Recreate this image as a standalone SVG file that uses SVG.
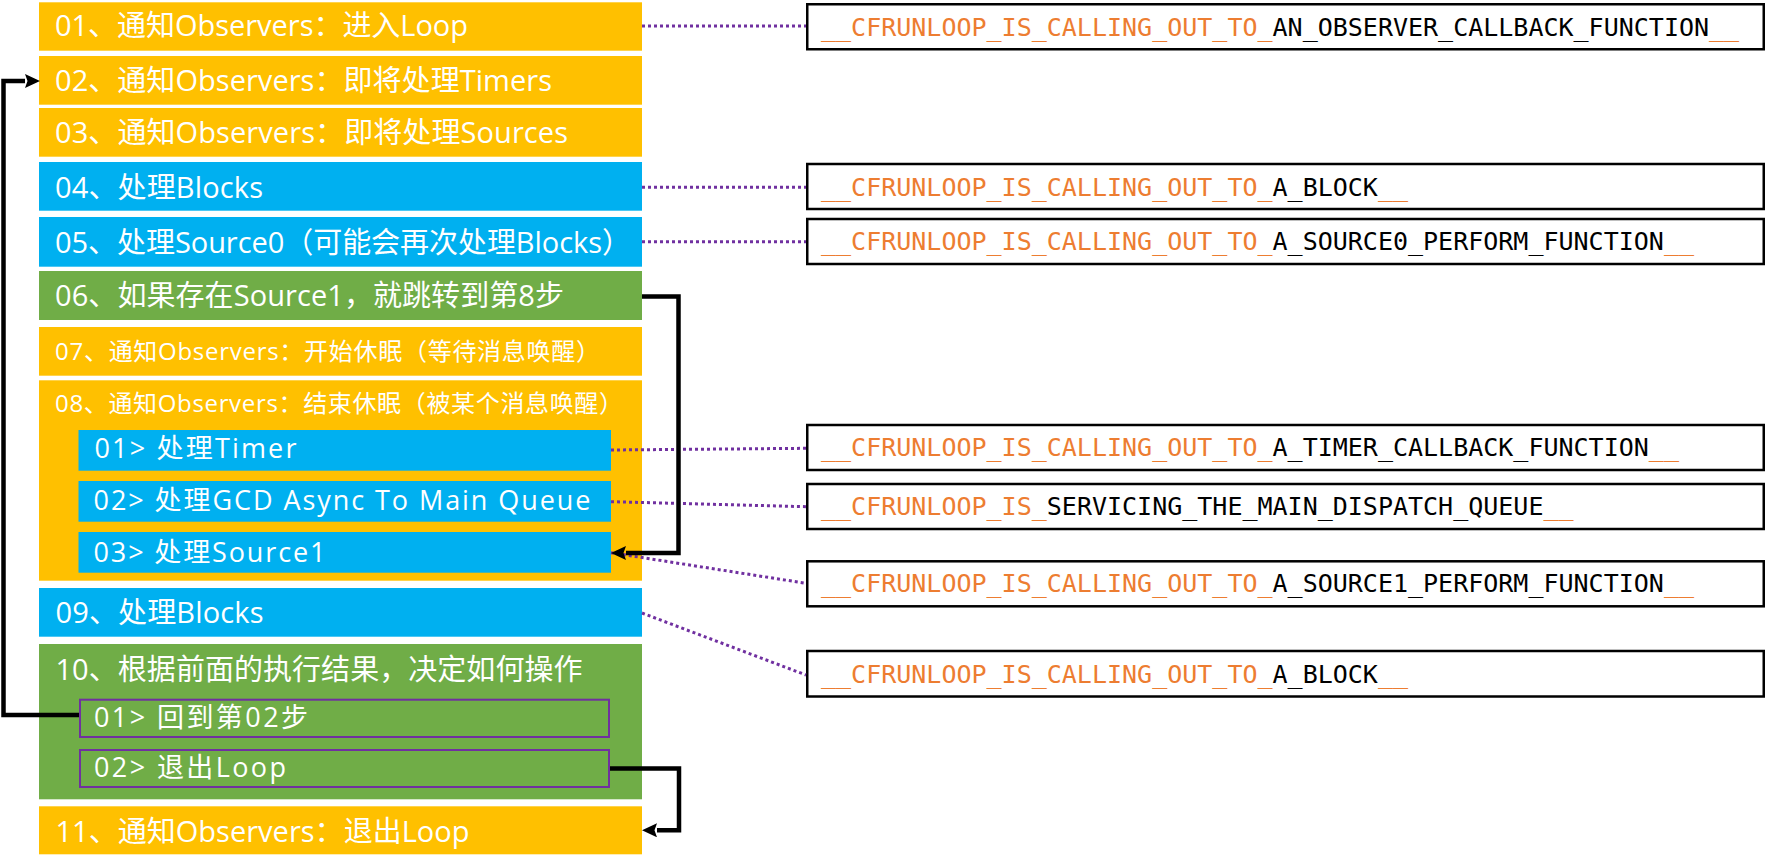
<svg xmlns="http://www.w3.org/2000/svg" width="1766" height="866" viewBox="0 0 1766 866">
<style>
.bg{fill:#ffffff}
.o{fill:#FFC000}
.b{fill:#00B0F0}
.g{fill:#70AD47}
.gs{fill:#70AD47;stroke:#7030A0;stroke-width:2}
.t{fill:#ffffff;font-family:"Open Sans","Noto Sans CJK SC",sans-serif;font-size:29px}
.ts{font-size:24px}
.tm{font-size:27px}
.rb{fill:#ffffff;stroke:#000000;stroke-width:2.5}
.m{font-family:"DejaVu Sans Mono","Liberation Mono",monospace;font-size:25px;fill:#000000}
.m tspan.or{fill:#ED7D31}
.dot{fill:none;stroke:#7030A0;stroke-width:3;stroke-dasharray:3 3}
.arr{fill:none;stroke:#000000;stroke-width:4.5}
</style>
<defs>
<marker id="ah" markerUnits="userSpaceOnUse" markerWidth="16" markerHeight="14" refX="0" refY="7" orient="auto" viewBox="0 0 16 14">
<path d="M0,0 L15,7 L0,14 L2.5,7 z" fill="#000000"/>
</marker>
</defs>
<rect class="bg" x="0" y="0" width="1766" height="866"/>

<g id="step01"><rect class="o" x="39" y="2.3" width="603" height="48.4"/><text class="t" x="55" y="36" textLength="413">01、通知Observers：进入Loop</text></g>
<g id="step02"><rect class="o" x="39" y="56" width="603" height="48.7"/><text class="t" x="55" y="90.7" textLength="497">02、通知Observers：即将处理Timers</text></g>
<g id="step03"><rect class="o" x="39" y="108" width="603" height="48.7"/><text class="t" x="55" y="143.3" textLength="513">03、通知Observers：即将处理Sources</text></g>
<g id="step04"><rect class="b" x="39" y="162" width="603" height="48.7"/><text class="t" x="55" y="197.5" textLength="208">04、处理Blocks</text></g>
<g id="step05"><rect class="b" x="39" y="217" width="603" height="49.7"/><text class="t" x="55" y="252.5" textLength="576">05、处理Source0（可能会再次处理Blocks）</text></g>
<g id="step06"><rect class="g" x="39" y="271" width="603" height="49"/><text class="t" x="55" y="305.7" textLength="509">06、如果存在Source1，就跳转到第8步</text></g>
<g id="step07"><rect class="o" x="39" y="327" width="603" height="48.7"/><text class="t ts" x="55" y="360" textLength="545">07、通知Observers：开始休眠（等待消息唤醒）</text></g>
<g id="step08"><rect class="o" x="39" y="380.3" width="603" height="200.4"/><text class="t ts" x="55" y="412.3" textLength="568">08、通知Observers：结束休眠（被某个消息唤醒）</text>
<g id="step08-1"><rect class="b" x="78.5" y="430" width="532.5" height="40.7"/><text class="t tm" x="94.5" y="458.3" textLength="202">01&gt; 处理Timer</text></g>
<g id="step08-2"><rect class="b" x="78.5" y="481" width="532.5" height="40.7"/><text class="t tm" x="93.5" y="510" textLength="497">02&gt; 处理GCD Async To Main Queue</text></g>
<g id="step08-3"><rect class="b" x="78.5" y="532" width="532.5" height="40.7"/><text class="t tm" x="93.5" y="561.7" textLength="232">03&gt; 处理Source1</text></g>
</g>
<g id="step09"><rect class="b" x="39" y="588" width="603" height="48.7"/><text class="t" x="55.5" y="623.3" textLength="208">09、处理Blocks</text></g>
<g id="step10"><rect class="g" x="39" y="644" width="603" height="155.3"/><text class="t" x="55.5" y="680" textLength="527">10、根据前面的执行结果，决定如何操作</text>
<g id="step10-1"><rect class="gs" x="80" y="699.7" width="529" height="37.3"/><text class="t tm" x="94" y="726.7" textLength="214">01&gt; 回到第02步</text></g>
<g id="step10-2"><rect class="gs" x="80" y="750" width="529" height="37"/><text class="t tm" x="94" y="776.7" textLength="192">02&gt; 退出Loop</text></g>
</g>
<g id="step11"><rect class="o" x="39" y="806.3" width="603" height="48"/><text class="t" x="55.5" y="841.7" textLength="414">11、通知Observers：退出Loop</text></g>

<g id="fnA"><rect class="rb" x="807.25" y="4.25" width="956.5" height="45"/><text class="m" x="821" y="35.5"><tspan class="or">__CFRUNLOOP_IS_CALLING_OUT_TO_</tspan>AN_OBSERVER_CALLBACK_FUNCTION<tspan class="or">__</tspan></text></g>
<g id="fnB"><rect class="rb" x="807.25" y="164" width="956.5" height="45"/><text class="m" x="821" y="195.5"><tspan class="or">__CFRUNLOOP_IS_CALLING_OUT_TO_</tspan>A_BLOCK<tspan class="or">__</tspan></text></g>
<g id="fnC"><rect class="rb" x="807.25" y="219" width="956.5" height="45"/><text class="m" x="821" y="250.3"><tspan class="or">__CFRUNLOOP_IS_CALLING_OUT_TO_</tspan>A_SOURCE0_PERFORM_FUNCTION<tspan class="or">__</tspan></text></g>
<g id="fnD"><rect class="rb" x="807.25" y="425" width="956.5" height="45"/><text class="m" x="821" y="456"><tspan class="or">__CFRUNLOOP_IS_CALLING_OUT_TO_</tspan>A_TIMER_CALLBACK_FUNCTION<tspan class="or">__</tspan></text></g>
<g id="fnE"><rect class="rb" x="807.25" y="484" width="956.5" height="45"/><text class="m" x="821" y="515"><tspan class="or">__CFRUNLOOP_IS_</tspan>SERVICING_THE_MAIN_DISPATCH_QUEUE<tspan class="or">__</tspan></text></g>
<g id="fnF"><rect class="rb" x="807.25" y="561.3" width="956.5" height="45"/><text class="m" x="821" y="592"><tspan class="or">__CFRUNLOOP_IS_CALLING_OUT_TO_</tspan>A_SOURCE1_PERFORM_FUNCTION<tspan class="or">__</tspan></text></g>
<g id="fnG"><rect class="rb" x="807.25" y="651" width="956.5" height="45.5"/><text class="m" x="821" y="682.5"><tspan class="or">__CFRUNLOOP_IS_CALLING_OUT_TO_</tspan>A_BLOCK<tspan class="or">__</tspan></text></g>

<g id="connectors">
<path class="dot" d="M642,26 L806,26"/>
<path class="dot" d="M642,187.3 L806,187.3"/>
<path class="dot" d="M642,241.7 L806,241.7"/>
<path class="dot" d="M611,450 L806,448.3"/>
<path class="dot" d="M611,501.7 L806,506.7"/>
<path class="dot" d="M611,552.7 L806,583.3"/>
<path class="dot" d="M642,613 L806,675"/>
<path class="arr" d="M79,715 H3.5 V81 H25" marker-end="url(#ah)"/>
<path class="arr" d="M642,296.5 H678.5 V553 H626" marker-end="url(#ah)"/>
<path class="arr" d="M610,768.5 H679 V830.3 H657" marker-end="url(#ah)"/>
</g>
</svg>
